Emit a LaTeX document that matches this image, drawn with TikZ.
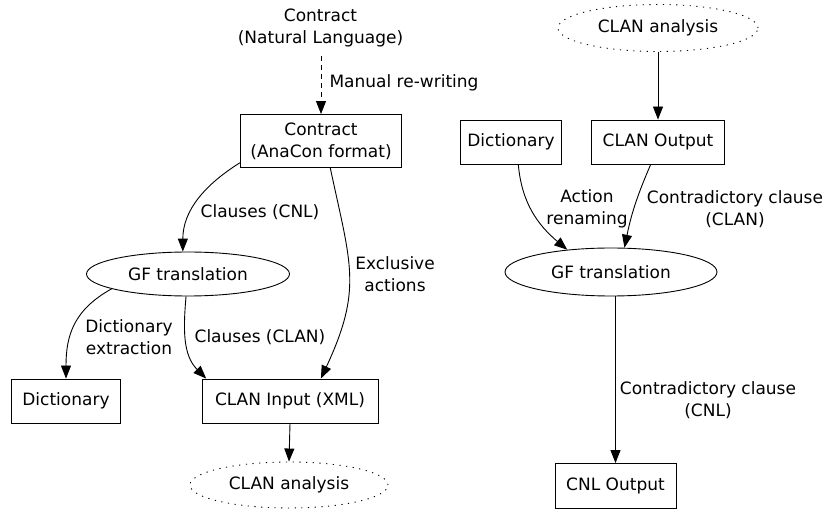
\documentclass[tikz,border=0pt]{standalone}
\usepackage{fontspec}
\setmainfont{DejaVu Sans}
\usetikzlibrary{arrows.meta,shapes.geometric,calc}
\begin{document}
\begin{tikzpicture}[x=1pt,y=1pt,
  font=\fontsize{17}{22}\selectfont,
  box/.style={draw, line width=0.9pt, rectangle, inner sep=0pt, align=center},
  oval/.style={draw, line width=0.9pt, ellipse, inner sep=0pt, align=center},
  dotoval/.style={oval, dash pattern=on 1.2pt off 5.5pt},
  edge/.style={line width=0.9pt, -{Triangle[length=13pt,width=10pt]}},
  lbl/.style={align=center, inner sep=0pt}]
\useasboundingbox (0,0) rectangle (825,-510);

% left part
\node[lbl] (nl) at (320.5,-27.5) {Contract\\(Natural Language)};
\node[box, minimum width=161pt, minimum height=53pt] (c2) at (321,-141) {Contract\\(AnaCon format)};
\node[oval, minimum width=203pt, minimum height=44pt] (gf1) at (188,-274) {GF translation};
\node[box, minimum width=109pt, minimum height=44pt] (d1) at (66,-401) {Dictionary};
\node[box, minimum width=176pt, minimum height=44pt] (ci) at (290,-401) {CLAN Input (XML)};
\node[dotoval, minimum width=198pt, minimum height=46pt] (ca1) at (289,-485) {CLAN analysis};

% right part
\node[dotoval, minimum width=200pt, minimum height=47pt] (ca2) at (658,-28) {CLAN analysis};
\node[box, minimum width=101pt, minimum height=44pt] (d2) at (511,-142) {Dictionary};
\node[box, minimum width=133pt, minimum height=44pt] (co) at (658,-142) {CLAN Output};
\node[oval, minimum width=212pt, minimum height=48pt] (gf2) at (611,-272) {GF translation};
\node[box, minimum width=121pt, minimum height=45pt] (cnl) at (615.5,-486) {CNL Output};

% edges left
\draw[edge, dash pattern=on 5pt off 4pt, shorten <=9pt] (nl.south -| c2.north) -- (c2.north);
\draw[edge] (c2.-165) to[out=212,in=90] (gf1.103);
\draw[edge] (c2.-71) to[out=-78,in=65,looseness=1.2] (ci.36);
\draw[edge] (gf1.191) to[out=209,in=90,looseness=1.1] (d1.north);
\draw[edge] (gf1.265) to[out=265,in=135] (ci.165);
\draw[edge] (ci.south) -- (ca1.north);

% edges right
\draw[edge] (ca2.south) -- (co.north);
\draw[edge] (d2.-72) to[out=-85,in=140] (gf2.153);
\draw[edge] (co.-108) to[bend right=6] (gf2.61);
\draw[edge] (cnl.north |- gf2.south) -- (cnl.north);

% labels
\node[lbl] (l1) at (404,-83) {Manual re-writing};
\node[lbl] (l2) at (260,-212) {Clauses (CNL)};
\node[lbl] (l3) at (395,-274) {Exclusive\\actions};
\node[lbl] (l4) at (129,-337) {Dictionary\\extraction};
\node[lbl] (l5) at (260,-337) {Clauses (CLAN)};
\node[lbl] (l6) at (587,-209) {Action\\renaming};
\node[lbl] (l7) at (735,-209) {Contradictory clause\\(CLAN)};
\node[lbl] (l8) at (708,-400) {Contradictory clause\\(CNL)};
\end{tikzpicture}
\end{document}
